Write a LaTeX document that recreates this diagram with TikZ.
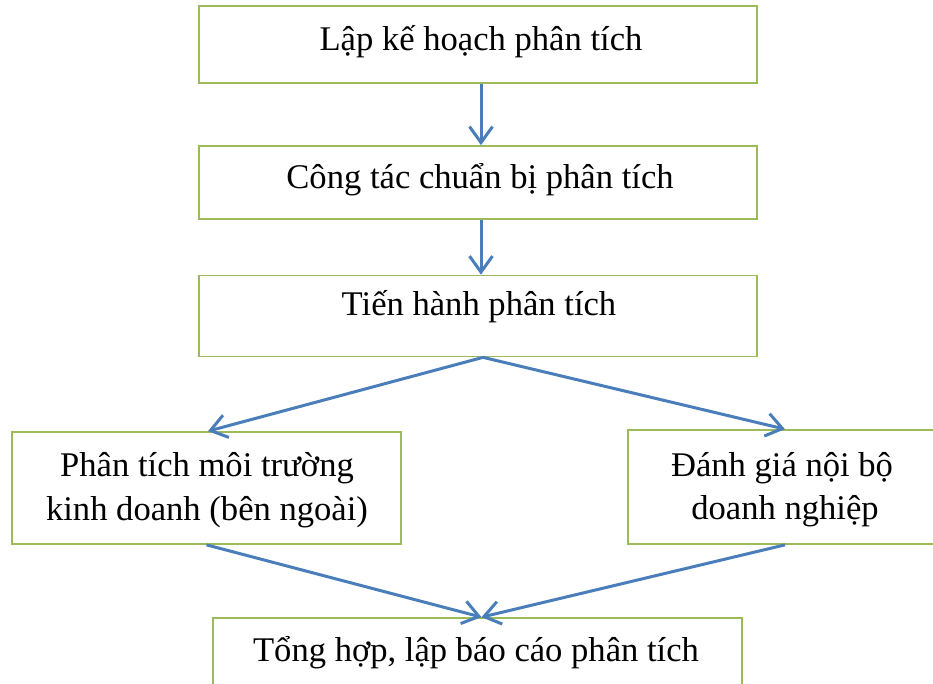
\documentclass[tikz,border=0pt]{standalone}
\usepackage{fontspec}
\setmainfont{Liberation Serif}
\usetikzlibrary{arrows.meta}
\definecolor{boxgreen}{RGB}{155,187,89}
\definecolor{flowblue}{RGB}{74,126,187}
\begin{document}
\begin{tikzpicture}[x=1pt,y=-1pt,
  stepbox/.style={draw=boxgreen, line width=1.7pt, rectangle, inner sep=0pt},
  steptext/.style={font=\fontsize{34.6}{44}\selectfont, anchor=base, inner sep=0pt, align=center},
  flow/.style={draw=flowblue, line width=3pt,
    -{Straight Barb[length=16pt, width=23pt, line width=3pt]}}]
\useasboundingbox (0,0) rectangle (933,683);
\clip (0,0) rectangle (933,683);
% boxes
\node[stepbox, minimum width=558pt, minimum height=77pt] (plan) at (478,44.5) {};
\node[stepbox, minimum width=558pt, minimum height=73pt] (prep) at (478,182.5) {};
\node[stepbox, minimum width=558pt, minimum height=81pt] (run) at (478,316) {};
\node[stepbox, minimum width=389pt, minimum height=112pt] (env) at (206.5,488) {};
\node[stepbox, minimum width=314pt, minimum height=114pt] (inner) at (785,487) {};
\node[stepbox, minimum width=529pt, minimum height=90pt] (report) at (477.5,663) {};
% texts
\node[steptext] (tplan) at (481,50) {Lập kế hoạch phân tích};
\node[steptext] (tprep) at (480,188) {Công tác chuẩn bị phân tích};
\node[steptext] (trun) at (479,315) {Tiến hành phân tích};
\node[steptext] (tenv1) at (207,476) {Phân tích môi trường};
\node[steptext] (tenv2) at (207,520) {kinh doanh (bên ngoài)};
\node[steptext] (tin1) at (782,476) {Đánh giá nội bộ};
\node[steptext] (tin2) at (785,519) {doanh nghiệp};
\node[steptext] (trep) at (476,661) {Tổng hợp, lập báo cáo phân tích};
% connectors
\draw[flow] ([xshift=3pt]plan.south) -- ([xshift=3pt]prep.north);
\draw[flow] ([xshift=3pt]prep.south) -- ([xshift=3pt]run.north);
\draw[flow] ([xshift=5pt]run.south) -- ([xshift=1.5pt]env.north);
\draw[flow] ([xshift=5pt]run.south) -- (inner.north);
\draw[flow] (env.south) -- ([xshift=4pt]report.north);
\draw[flow] (inner.south) -- ([xshift=4pt]report.north);
\end{tikzpicture}
\end{document}
